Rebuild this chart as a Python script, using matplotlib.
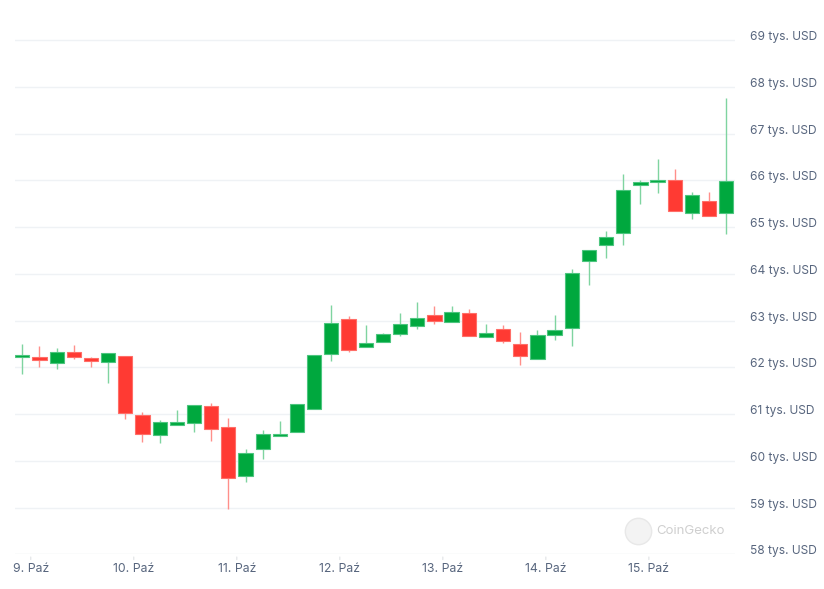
import matplotlib.pyplot as plt

# 4h candles, BTC price in USD (9-15 Oct)
opens = [62220, 62222, 62094, 62328, 62200, 62115, 62243, 60985, 60559, 60772,
         60814, 61177, 60729, 59684, 60260, 60537, 60623, 61113, 62286, 63032,
         62435, 62541, 62712, 62883, 63117, 62968, 63160, 62648, 62819, 62499,
         62179, 62691, 62840, 64269, 64610, 64866, 65890, 65953, 66009, 65292,
         65548, 65292]
highs = [62505, 62463, 62420, 62484, 62228, 62307, 62243, 61049, 60864, 61077,
         61198, 61226, 60906, 60245, 60650, 60842, 61220, 62264, 63337, 63102,
         62910, 62733, 63166, 63400, 63315, 63315, 63252, 62932, 62904, 62755,
         62797, 63124, 64104, 64503, 64914, 66130, 66017, 66450, 66237, 65746,
         65746, 67754]
lows = [61850, 62000, 61957, 62170, 62000, 61659, 60885, 60400, 60380, 60772,
        60623, 60430, 58959, 59548, 60038, 60537, 60623, 61113, 62128, 62328,
        62435, 62541, 62670, 62819, 62925, 62968, 62670, 62648, 62520, 62051,
        62179, 62584, 62448, 63770, 64345, 64623, 65484, 65732, 65335, 65177,
        65228, 64855]
closes = [62265, 62158, 62328, 62222, 62136, 62307, 61028, 60580, 60836, 60836,
          61198, 60687, 59642, 60175, 60580, 60580, 61220, 62264, 62947, 62371,
          62520, 62712, 62925, 63053, 62989, 63181, 62670, 62733, 62563, 62243,
          62691, 62797, 64013, 64503, 64780, 65783, 65953, 65996, 65335, 65676,
          65228, 65975]

day_labels = ['9. Paź', '10. Paź', '11. Paź', '12. Paź', '13. Paź', '14. Paź', '15. Paź']
price_ticks = [58000, 59000, 60000, 61000, 62000, 63000, 64000, 65000, 66000, 67000, 68000, 69000]

W, H = 824, 589
fig = plt.figure(figsize=(W / 100, H / 100), dpi=100)
plt.rcParams['font.family'] = ['Inter', 'DejaVu Sans']

left, right, bottom_px, top_px = 15, 735, 554.3, 10
ax = fig.add_axes([left / W, (H - bottom_px) / H, (right - left) / W, (bottom_px - top_px) / H])
ppu = 0.04675  # pixels per USD
ax.set_ylim(58000, 58000 + (bottom_px - top_px) / ppu)
step = 17.17
x0 = 22.3
ax.set_xlim((left - x0) / step, (right - x0) / step)

for s in ax.spines.values():
    s.set_visible(False)
ax.set_xticks([])
ax.set_yticks([])

grid_col = '#eff2f5'
for v in price_ticks:
    ax.axhline(v, color='#e9ecef' if v == 58000 else grid_col, lw=1, zorder=0)
    ax.annotate(f'{v // 1000} tys. USD', xy=(1, v), xycoords=('axes fraction', 'data'),
                xytext=(15, 3), textcoords='offset pixels', ha='left', va='center',
                fontsize=8.6, color='#58667e')

# day ticks
for k, lab in enumerate(day_labels):
    xd = 0.49 + 6 * k
    ax.annotate('', xy=(xd, 58000), xytext=(xd, 58000 - 8 / ppu),
                arrowprops=dict(arrowstyle='-', color='#e6e8ea', lw=1), annotation_clip=False)
    ax.annotate(lab, xy=(xd, 58000), xytext=(0, -15), textcoords='offset pixels',
                ha='center', va='center', fontsize=8.8, color='#58667e', annotation_clip=False)

green, green_edge, green_wick = '#00a83e', '#4cc57f', '#7fd4a0'
red, red_edge, red_wick = '#ff3a33', '#ff6e68', '#ff8f8a'
xs = list(range(len(opens)))
for i in xs:
    o, h, l, c = opens[i], highs[i], lows[i], closes[i]
    up = c >= o
    ax.vlines(i, l, h, color=green_wick if up else red_wick, lw=1, zorder=2)
    lo = min(o, c)
    ht = max(abs(c - o), 45)
    ax.bar(i, ht, bottom=lo, width=0.83, color=green if up else red,
           edgecolor=green_edge if up else red_edge, linewidth=0.8, zorder=3)

# watermark
fig.lines.append(plt.Line2D([638 / W], [1 - 531 / H], transform=fig.transFigure,
                            marker='o', markersize=19, markerfacecolor='#f3f3f3',
                            markeredgecolor='#e8e8e8', markeredgewidth=1))
fig.text(656 / W, 1 - 531 / H, 'CoinGecko', ha='left', va='center', fontsize=9.5,
         color='#cfcfcf')

fig.savefig('out.png', dpi=100, facecolor='white')
